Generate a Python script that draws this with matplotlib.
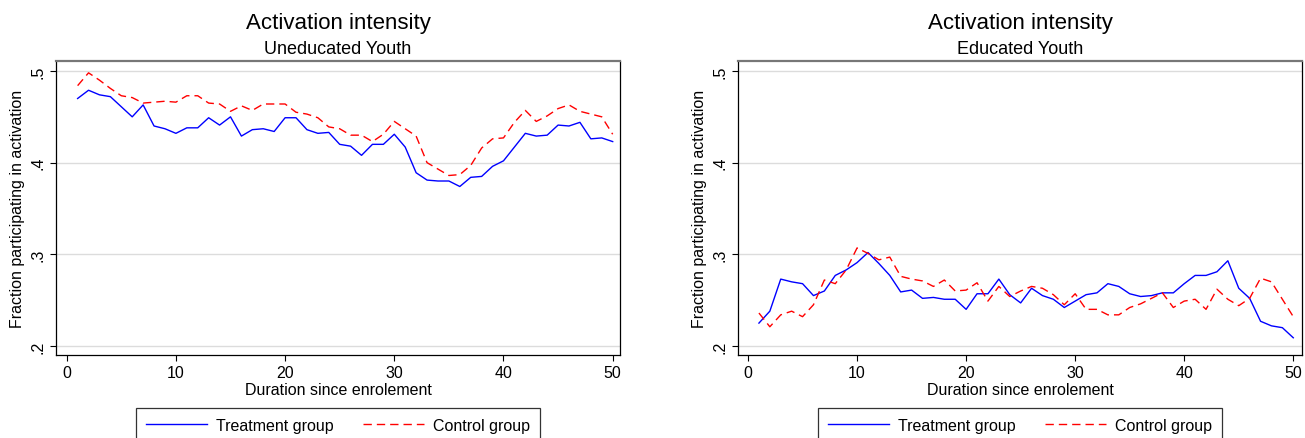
import matplotlib
matplotlib.use("Agg")
import matplotlib.pyplot as plt
import numpy as np

plt.rcParams['font.family'] = ['Liberation Sans', 'DejaVu Sans']
plt.rcParams['lines.scale_dashes'] = False

duration = list(range(1, 51))

uned_treat = [0.470, 0.479, 0.474, 0.472, 0.461, 0.450, 0.463, 0.440, 0.437, 0.432,
              0.438, 0.438, 0.449, 0.441, 0.450, 0.429, 0.436, 0.437, 0.434, 0.449,
              0.449, 0.436, 0.432, 0.433, 0.420, 0.418, 0.408, 0.420, 0.420, 0.431,
              0.417, 0.389, 0.381, 0.380, 0.380, 0.374, 0.384, 0.385, 0.396, 0.402,
              0.417, 0.432, 0.429, 0.430, 0.441, 0.440, 0.444, 0.426, 0.427, 0.423]
uned_ctrl = [0.484, 0.498, 0.490, 0.481, 0.473, 0.471, 0.465, 0.466, 0.467, 0.466,
             0.473, 0.473, 0.465, 0.464, 0.456, 0.462, 0.457, 0.464, 0.464, 0.464,
             0.455, 0.453, 0.449, 0.439, 0.437, 0.430, 0.430, 0.423, 0.431, 0.445,
             0.437, 0.429, 0.400, 0.393, 0.386, 0.387, 0.397, 0.416, 0.426, 0.427,
             0.444, 0.457, 0.445, 0.451, 0.459, 0.463, 0.456, 0.453, 0.450, 0.431]
edu_treat = [0.225, 0.238, 0.273, 0.270, 0.268, 0.255, 0.260, 0.277, 0.283, 0.291,
             0.302, 0.290, 0.277, 0.259, 0.261, 0.252, 0.253, 0.251, 0.251, 0.240,
             0.257, 0.257, 0.273, 0.256, 0.247, 0.263, 0.255, 0.251, 0.242, 0.249,
             0.256, 0.258, 0.268, 0.265, 0.257, 0.254, 0.255, 0.258, 0.258, 0.268,
             0.277, 0.277, 0.281, 0.293, 0.263, 0.252, 0.227, 0.222, 0.220, 0.209]
edu_ctrl = [0.236, 0.221, 0.234, 0.238, 0.232, 0.245, 0.272, 0.268, 0.283, 0.307,
            0.301, 0.294, 0.297, 0.276, 0.273, 0.271, 0.265, 0.272, 0.260, 0.261,
            0.269, 0.249, 0.265, 0.254, 0.260, 0.265, 0.263, 0.256, 0.245, 0.257,
            0.240, 0.240, 0.234, 0.234, 0.242, 0.246, 0.252, 0.258, 0.242, 0.249,
            0.251, 0.240, 0.262, 0.251, 0.244, 0.252, 0.274, 0.270, 0.251, 0.232]

title = "Activation intensity"
subtitles = ["Uneducated Youth", "Educated Youth"]
xlabel = "Duration since enrolement"
ylabel = "Fraction participating in activation"
xticks = [0, 10, 20, 30, 40, 50]
yticks = [0.2, 0.3, 0.4, 0.5]
yticklabels = [".2", ".3", ".4", ".5"]
legend_labels = ["Treatment group", "Control group"]

W, H = 1305, 439
fig = plt.figure(figsize=(W / 100, H / 100), dpi=100)

panels = [
    (56, 620, uned_treat, uned_ctrl, subtitles[0], (-0.98, 50.67)),
    (738, 1302, edu_treat, edu_ctrl, subtitles[1], (-0.92, 50.8)),
]
top_px, bot_px = 62, 356

for (l, r, tr, ct, sub, xl) in panels:
    ax = fig.add_axes([l / W, 1 - bot_px / H, (r - l) / W, (bot_px - top_px) / H])
    ax.plot(duration, tr, color='#0000ff', lw=1.0, label=legend_labels[0])
    ax.plot(duration, ct, color='#ff0000', lw=1.0, dashes=(6, 3.6), label=legend_labels[1])
    ax.set_xlim(*xl)
    ax.set_ylim(0.1902, 0.5109)
    ax.set_xticks(xticks)
    ax.set_yticks(yticks)
    ax.set_yticklabels(yticklabels, rotation=90, va='center')
    ax.tick_params(axis='both', labelsize=11.5, length=4.5, width=0.8, color='black', pad=3)
    ax.grid(axis='y', color='#dcdcdc', lw=1.0)
    ax.set_axisbelow(True)
    for s in ['left', 'bottom', 'right']:
        ax.spines[s].set_color('black')
        ax.spines[s].set_linewidth(0.9)
    ax.spines['top'].set_color('#777777')
    ax.spines['top'].set_linewidth(1.6)
    ax.set_xlabel(xlabel, fontsize=11.5, labelpad=1)
    ax.set_ylabel(ylabel, fontsize=11.5, labelpad=4)
    cx = (l + r) / 2 / W
    fig.text(cx, 1 - 29 / H, title, ha='center', va='baseline', fontsize=16)
    fig.text(cx, 1 - 54 / H, sub, ha='center', va='baseline', fontsize=13)
    leg = ax.legend(loc='upper center', bbox_to_anchor=(0.5, (bot_px - 409) / (bot_px - top_px)),
                    ncol=2, fontsize=11.5, frameon=True, fancybox=False,
                    edgecolor='black', handlelength=3.8, handletextpad=0.55,
                    columnspacing=1.9, borderpad=0.6, borderaxespad=0)
    leg.get_frame().set_linewidth(0.9)

fig.savefig('out.png', dpi=100)
